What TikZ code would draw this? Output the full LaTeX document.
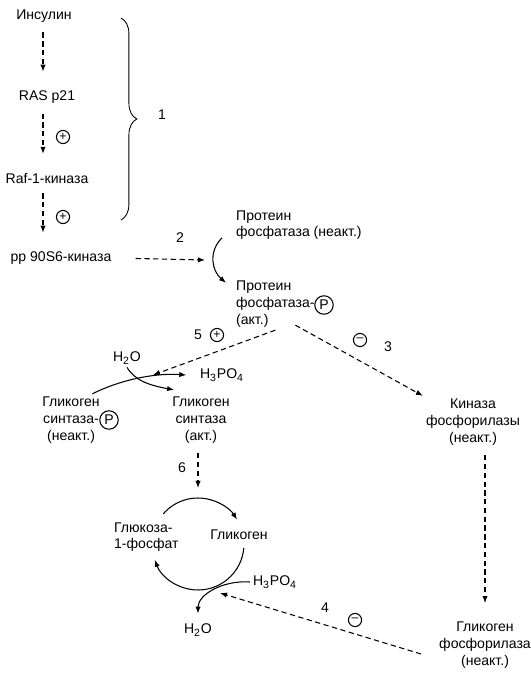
\documentclass[tikz,border=0pt]{standalone}
\usepackage{fontspec}
\setmainfont{Liberation Sans}
\usetikzlibrary{arrows.meta,positioning,decorations.pathreplacing}
\tikzset{
  every node/.style={font=\fontsize{8}{9.5}\selectfont,inner sep=1.5pt},
  dsh/.style={->,dash pattern=on 3pt off 2pt},
  vdsh/.style={dsh,shorten <=4pt,shorten >=9pt},
  sgn/.style={circle,draw,inner sep=0pt,minimum size=7.5pt,font=\fontsize{7}{7}\selectfont},
  pcirc/.style={circle,draw,inner sep=0pt,minimum size=10.5pt},
}
\begin{document}
\begin{tikzpicture}[x=0.02cm,y=-0.02cm,line width=0.6pt,>={Latex[length=4pt,width=3pt]}]
\useasboundingbox (0,0) rectangle (530,675);

\node (ins) at (44,16) {Инсулин};
\node (ras) at (47,97) {RAS p21};
\node (raf) at (47,178) {Raf-1-киназа};
\node (rsk) at (61,258) {pp 90S6-киназа};
\coordinate (ax) at (43,0);

\draw[vdsh] (ins.south -| ax) -- (ras.north -| ax);
\draw[vdsh] (ras.south -| ax) -- (raf.north -| ax);
\draw[vdsh] (raf.south -| ax) -- (rsk.north -| ax);
\node[sgn] (s1) at (63,137) {+};
\node[sgn] (s2) at (63,217) {+};

\draw[line width=0.5pt,decorate,decoration={brace,amplitude=9pt}] (121,18) -- (121,220);
\node (n1) at (162,115) {1};

\node[align=left,anchor=west] (pin) at (233,225) {Протеин\\фосфатаза (неакт.)};
\node[align=left,anchor=west] (pact) at (233,304) {Протеин\\фосфатаза-\\(акт.)};
\node[pcirc] (p1) at (324,305) {P};

\coordinate (c2) at (205,260);
\node (n2) at (180,238) {2};
\draw[dsh,shorten <=12pt] (rsk.east) -- (c2);
\draw[->] ([shift={(-11,-5)}]pin.south west) .. controls +(-14,14) and +(-14,-12) .. ([shift={(-7,5)}]pact.north west);

\node (n5) at (198,335) {5};
\node[sgn] (s5) at (217,335) {+};
\node[sgn] (s3) at (360,340) {–};
\node (n3) at (388,347) {3};

\node (h2oA) at (127,358) {H\textsubscript{2}O};
\node (h3A) at (222,375) {H\textsubscript{3}PO\textsubscript{4}};
\node[align=center] (gsi) at (71,420) {Гликоген\\синтаза-\\(неакт.)};
\node[pcirc] (p2) at (109,420) {P};
\node[align=center] (gsa) at (201,420) {Гликоген\\синтаза\\(акт.)};
\node[align=center] (kin) at (473,422) {Киназа\\фосфорилазы\\(неакт.)};

\coordinate (x5) at (153,375);
\draw[dsh] (pact.south) -- (x5);
\draw[dsh] ([shift={(20,-5)}]pact.south) -- (kin.north west);
\draw[->] ([xshift=-6pt]gsi.north east) .. controls +(30,-15) and +(-30,-2) .. ([xshift=-6pt]h3A.west);
\draw[->] (h2oA.south) .. controls +(8,14) and +(-22,-4) .. ([shift={(5,-4)}]gsa.north west);

\coordinate (cyc) at (198,544);
\node (n6) at (182,468) {6};
\draw[dsh,shorten <=4pt] (gsa.south -| cyc) -- ([shift={(0,-56)}]cyc);

\node[align=left,anchor=west] (g1p) at (111,537) {Глюкоза-\\1-фосфат};
\node (glyc) at (239,535) {Гликоген};
\draw[->] ([shift={(139:0.92cm)}]cyc) arc[start angle=139,end angle=32,radius=0.92cm];
\draw[->] ([shift={(-5:0.92cm)}]cyc) arc[start angle=-5,end angle=-160,radius=0.92cm];

\node (h3B) at (275,582) {H\textsubscript{3}PO\textsubscript{4}};
\node (h2oB) at (198,630) {H\textsubscript{2}O};
\draw[->,shorten >=4pt] (h3B.west) .. controls +(-27,-2) and +(0,-26) .. (h2oB.north);

\node[align=center] (gph) at (485,645) {Гликоген\\фосфорилаза\\(неакт.)};
\draw[dsh,shorten <=4pt,shorten >=9pt] (kin.south -| gph) -- (gph);

\coordinate (x4) at (220,593);
\node (n4) at (325,608) {4};
\node[sgn] (s4) at (355,620) {–};
\draw[dsh] ([shift={(-15,9)}]gph.west) -- (x4);
\end{tikzpicture}
\end{document}
